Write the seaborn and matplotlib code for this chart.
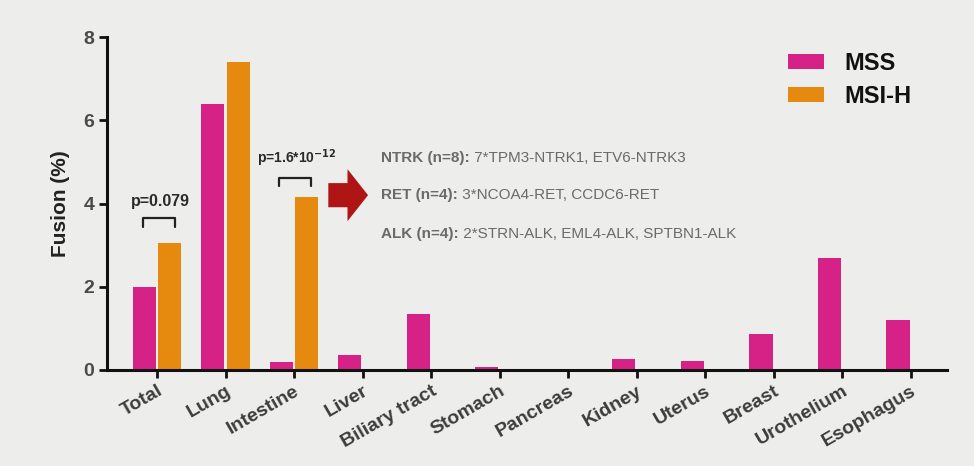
import matplotlib
matplotlib.use("Agg")
import matplotlib.pyplot as plt
import seaborn as sns
import pandas as pd
from matplotlib.patches import FancyArrow, Patch
from matplotlib.transforms import ScaledTranslation

categories = ["Total", "Lung", "Intestine", "Liver", "Biliary tract", "Stomach",
              "Pancreas", "Kidney", "Uterus", "Breast", "Urothelium", "Esophagus"]
mss = [2.0, 6.4, 0.19, 0.36, 1.35, 0.07, 0.0, 0.26, 0.22, 0.87, 2.69, 1.2]
msih = [3.05, 7.4, 4.16, 0, 0, 0, 0, 0, 0, 0, 0, 0]
groups = ["MSS", "MSI-H"]
colors = {"MSS": "#D62287", "MSI-H": "#E58A0E"}
yticks = [0, 2, 4, 6, 8]

df = pd.DataFrame({
    "category": categories * 2,
    "value": mss + msih,
    "group": ["MSS"] * len(categories) + ["MSI-H"] * len(categories),
})

bg = "#EDEDEB"
sns.set_theme(style="ticks")
plt.rcParams['font.family'] = ['Liberation Sans', 'DejaVu Sans']

fig = plt.figure(figsize=(9.74, 4.66), dpi=100, facecolor=bg)
ax = fig.add_axes([107/974, 1-370/466, (947-107)/974, (370-37)/466])
ax.set_facecolor(bg)

sns.barplot(data=df, x="category", y="value", hue="group", hue_order=groups,
            palette=colors, width=0.74, gap=0.09, linewidth=0, ax=ax,
            legend=False, saturation=1)

ax.set_ylim(0, 8)
ax.set_xlim(-0.73, 11.53)
ax.set_yticks(yticks)
ax.set_yticklabels([str(t) for t in yticks], fontsize=14, fontweight="bold", color="#4a4a4a")
ax.set_xticks(range(len(categories)))
ax.set_xticklabels(categories, rotation=30, ha="right", va="top", rotation_mode="anchor",
                   fontsize=14, fontweight="bold", color="#3c3c3c")
offset = ScaledTranslation(8/100, 0, fig.dpi_scale_trans)
for lab in ax.get_xticklabels():
    lab.set_transform(lab.get_transform() + offset)
ax.set_xlabel("")
ax.set_ylabel("Fusion (%)", fontsize=15, fontweight="bold", color="#222222", labelpad=10)

for s in ["top", "right"]:
    ax.spines[s].set_visible(False)
for s in ["left", "bottom"]:
    ax.spines[s].set_linewidth(2.2)
    ax.spines[s].set_color("#111111")
ax.tick_params(axis="both", width=2, length=6, color="#111111", pad=3)

# legend
handles = [Patch(facecolor=colors[g], edgecolor="none") for g in groups]
leg = ax.legend(handles, groups, loc="upper left", bbox_to_anchor=(0.785, 1.02),
                frameon=False, handlelength=1.55, handleheight=0.6,
                prop={"weight": "bold", "size": 17}, labelspacing=0.45,
                handletextpad=0.85)
for t in leg.get_texts():
    t.set_color("#111111")

# p-value brackets
def bracket(x0, x1, y, h, text, ty, fs=10):
    ax.plot([x0, x0, x1, x1], [y - h, y, y, y - h], color="#222222", lw=1.6,
            clip_on=False)
    ax.text((x0 + x1) / 2 + 0.02, ty, text, ha="center", va="center",
            fontsize=fs, fontweight="bold", color="#2a2a2a")

bracket(-0.2, 0.26, 3.64, 0.2, "p=0.079", 4.06, fs=11.5)
bracket(1.78, 2.25, 4.61, 0.2, r"p=1.6*10$^{\mathbf{-12}}$", 5.1, fs=10)

# arrow
ax.add_patch(FancyArrow(2.5, 4.2, 0.28, 0, width=0.58, head_width=1.25,
                        head_length=0.3, length_includes_head=False,
                        color="#B01515", lw=0, clip_on=False))

# fusion text lines
lines = [("NTRK (n=8):", " 7*TPM3-NTRK1, ETV6-NTRK3", 5.1),
         ("RET (n=4):", " 3*NCOA4-RET, CCDC6-RET", 4.2),
         ("ALK (n=4):", " 2*STRN-ALK, EML4-ALK, SPTBN1-ALK", 3.27)]
x0 = 3.27
fig.canvas.draw()
renderer = fig.canvas.get_renderer()
for b, r, y in lines:
    t = ax.text(x0, y, b, ha="left", va="center", fontsize=11,
                fontweight="bold", color="#6a6a6a")
    bb = t.get_window_extent(renderer=renderer)
    xr = ax.transData.inverted().transform((bb.x1, 0))[0]
    ax.text(xr, y, r, ha="left", va="center", fontsize=11, color="#6a6a6a")

fig.savefig("out.png", dpi=100, facecolor=bg)
